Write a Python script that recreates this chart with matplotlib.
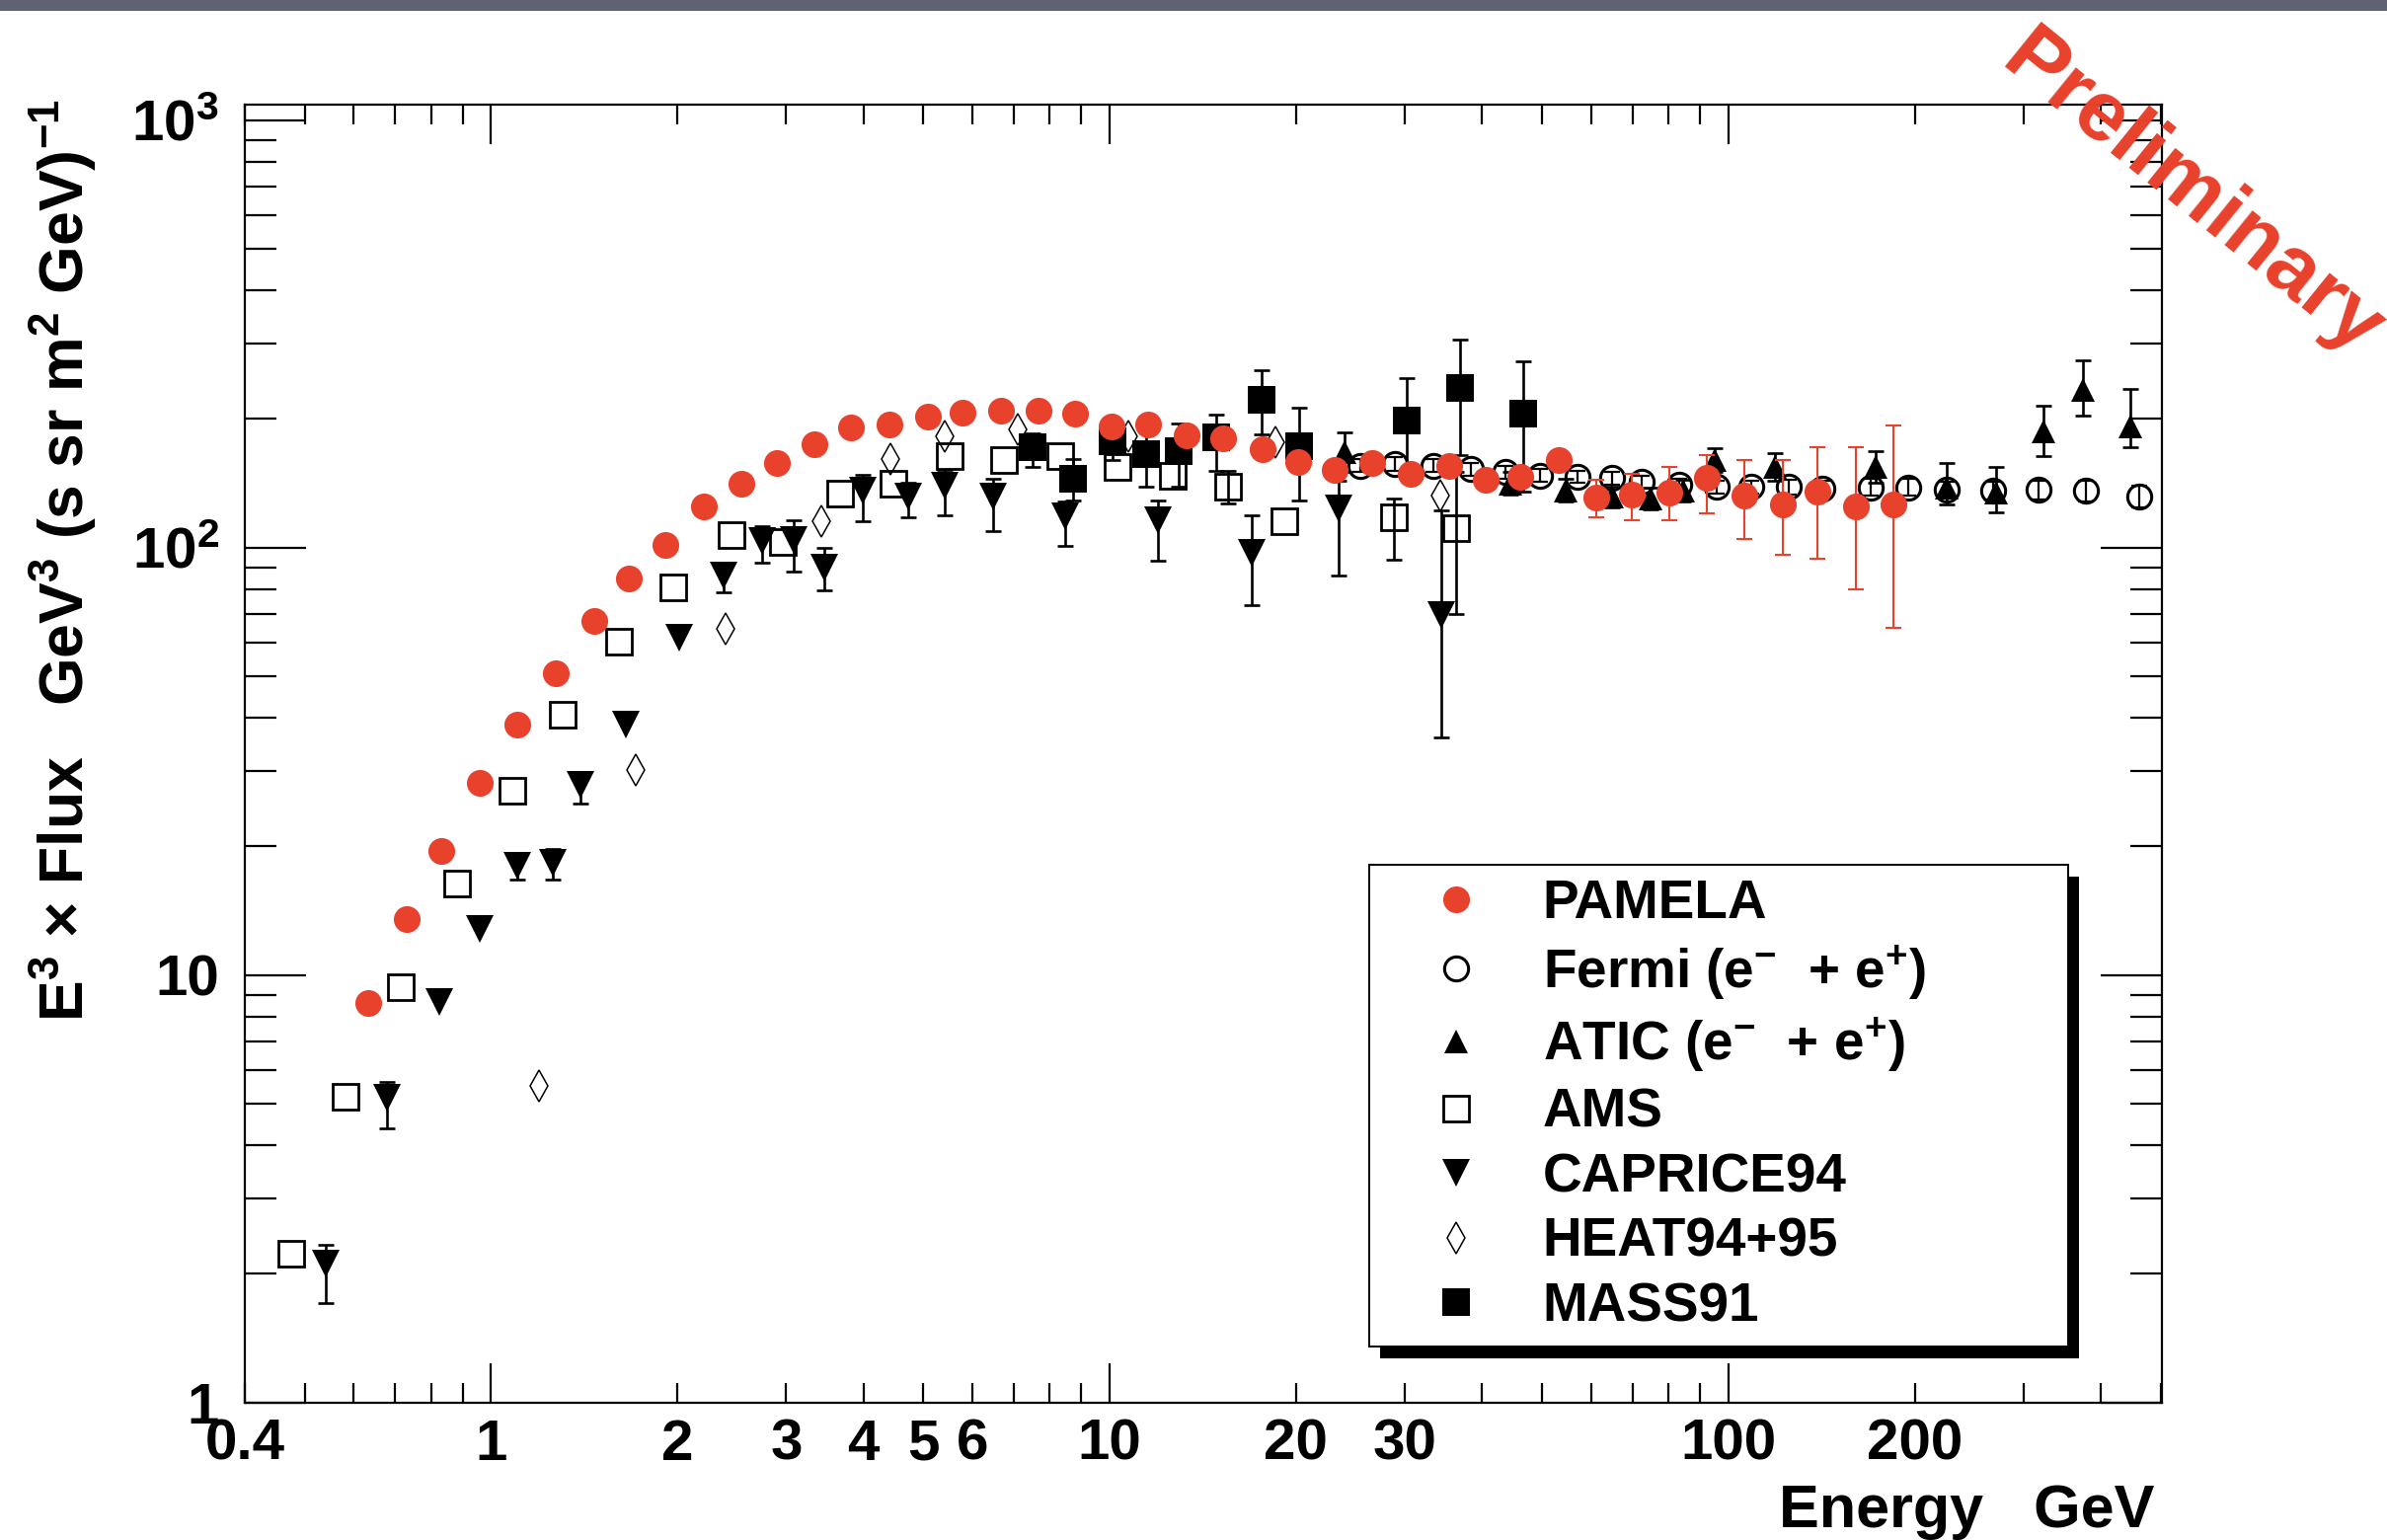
import numpy as np
import matplotlib
matplotlib.use('Agg')
import matplotlib.pyplot as plt
from matplotlib.lines import Line2D
from matplotlib.patches import Rectangle
from matplotlib.ticker import FixedLocator, FuncFormatter, LogLocator, NullFormatter

nan = np.nan

# ---------------- data (E in GeV, E^3 x Flux) ----------------
pamela_E = [0.633, 0.730, 0.831, 0.958, 1.104, 1.272, 1.466, 1.670, 1.913, 2.205,
            2.541, 2.895, 3.336, 3.822, 4.405, 5.076, 5.783, 6.664, 7.680, 8.800,
            10.08, 11.55, 13.31, 15.26, 17.68, 20.14, 23.14, 26.60, 30.64, 35.32,
            40.46, 46.11, 53.13, 61.23, 69.75, 80.36, 92.36, 106.1, 122.3, 139.3,
            160.6, 184.5]
pamela_F = [8.59, 13.5, 19.5, 28.2, 38.5, 50.9, 67.3, 84.7, 101.4, 124.5,
            140.8, 157.9, 174.2, 190.7, 193.9, 202.8, 207.0, 208.7, 208.7, 205.3,
            192.3, 193.9, 183.0, 180.0, 170.0, 158.6, 151.9, 157.9, 149.1, 155.4,
            144.3, 146.7, 160.6, 130.8, 132.9, 134.5, 146.0, 132.0, 126.0, 135.0,
            125.0, 126.0]
pamela_lo = [nan] * 33 + [118.0, 116.0, 116.0, 120.0, 105.0, 96.0, 94.0, 80.0, 65.0]
pamela_hi = [nan] * 33 + [144.0, 149.0, 154.0, 165.0, 160.0, 160.0, 172.0, 172.0, 193.0]

fermi_E = [25.4, 28.9, 33.3, 38.3, 43.6, 49.6, 57.1, 64.9, 72.4, 83.4, 95.9,
           108.8, 125.1, 142.0, 169.6, 195.0, 225.5, 267.5, 317.4, 379.0, 461.0]
fermi_F = [155.5, 156.9, 155.5, 152.8, 150.1, 147.5, 146.5, 145.5, 142.5, 140.0, 138.5,
           138.5, 138.5, 137.5, 138.4, 138.4, 136.5, 136.0, 136.5, 136.0, 131.8]
fermi_lo = [150.0, 151.5, 150.0, 147.5, 145.0, 142.5, 141.5, 140.5, 137.5, 135.0, 133.5,
            133.5, 133.0, 132.0, 132.5, 132.5, 130.5, 129.5, 129.5, 128.5, 124.0]
fermi_hi = [161.0, 162.5, 161.0, 158.0, 155.0, 152.5, 151.5, 150.5, 147.5, 145.0, 143.5,
            143.5, 144.0, 143.0, 144.5, 144.5, 142.5, 142.5, 143.5, 143.5, 139.5]

atic_E = [24.0, 44.4, 54.6, 64.9, 74.8, 84.4, 95.0, 118.9, 172.9, 225.5, 271.0, 323.5, 374.0, 446.7]
atic_F = [167.0, 141.0, 136.1, 131.4, 130.5, 135.9, 160.0, 154.0, 154.4, 138.4, 134.6, 187.2, 233.2, 192.3]
atic_lo = [150.0, 133.0, 128.0, 124.0, 123.0, 128.0, 150.0, 143.0, 142.0, 126.2, 120.6, 163.8, 203.3, 171.7]
atic_hi = [185.7, 150.0, 145.0, 139.0, 138.0, 144.0, 171.0, 166.0, 168.0, 157.9, 154.4, 214.7, 274.0, 235.3]

ams_E = [0.476, 0.582, 0.715, 0.880, 1.082, 1.305, 1.607, 1.972, 2.45, 2.967, 3.66,
         4.47, 5.507, 6.755, 8.32, 10.30, 12.65, 15.55, 19.15, 28.77, 36.33]
ams_F = [2.23, 5.19, 9.37, 16.4, 27.0, 40.6, 60.1, 80.6, 107.1, 102.8, 133.8,
         141.1, 164.0, 160.5, 164.0, 154.2, 147.5, 138.7, 115.1, 117.7, 110.8]
ams_lo = [nan] * 17 + [127.0, nan, 93.8, 70.0]
ams_hi = [nan] * 17 + [151.4, nan, 130.0, 150.0]

caprice_E = [0.540, 0.680, 0.824, 0.958, 1.102, 1.257, 1.394, 1.651, 2.014, 2.38, 2.743,
             3.083, 3.463, 3.987, 4.716, 5.417, 6.47, 8.48, 11.95, 16.94, 23.4, 34.3]
caprice_F = [2.11, 5.17, 8.64, 12.85, 17.98, 18.3, 27.9, 38.5, 61.5, 86.0, 103.5,
             104.4, 90.0, 135.7, 131.8, 139.8, 131.4, 118.6, 116.1, 97.2, 123.5, 69.4]
caprice_lo = [1.71, 4.39, nan, nan, 16.7, 16.7, 25.2, nan, nan, 78.4, 92.2,
              87.7, 79.3, 115.0, 117.8, 119.2, 109.1, 101.1, 93.3, 73.2, 85.9, 36.0]
caprice_hi = [2.34, 5.62, nan, nan, 19.3, 19.7, 29.9, nan, nan, 92.0, 112.0,
              116.0, 100.0, 148.0, 142.0, 152.0, 145.0, 128.0, 129.1, 119.2, 143.5, 122.4]

heat_E = [1.195, 1.713, 2.39, 3.42, 4.414, 5.417, 7.10, 10.7, 18.5, 34.2]
heat_F = [5.50, 30.2, 64.6, 115.1, 161.2, 182.4, 189.0, 182.0, 176.0, 132.6]

mass_E = [7.50, 8.74, 10.10, 11.45, 12.94, 14.89, 17.58, 20.24, 30.15, 36.9, 46.6]
mass_F = [171.5, 144.9, 177.7, 165.5, 167.9, 181.5, 221.7, 172.9, 198.6, 235.9, 205.4]
mass_lo = [154.2, 129.1, 160.0, 138.7, 138.7, 151.4, 184.0, 129.0, 149.6, 165.0, 135.0]
mass_hi = [185.0, 161.0, 195.0, 190.0, 195.0, 204.7, 260.0, 212.0, 249.6, 306.7, 272.7]

legend_labels = ["PAMELA", "Fermi ($e^{-}$  + $e^{+}$)", "ATIC ($e^{-}$  + $e^{+}$)",
                 "AMS", "CAPRICE94", "HEAT94+95", "MASS91"]

xtick_vals = [0.4, 1, 2, 3, 4, 5, 6, 10, 20, 30, 100, 200]
xtick_txt = ["0.4", "1", "2", "3", "4", "5", "6", "10", "20", "30", "100", "200"]
ytick_vals = [1, 10, 100, 1000]
ytick_txt = ["1", "10", "$10^{2}$", "$10^{3}$"]

# ---------------- style ----------------
plt.rcParams['font.family'] = ['Liberation Sans', 'DejaVu Sans']
plt.rcParams['font.weight'] = 'bold'
plt.rcParams['mathtext.fontset'] = 'custom'
plt.rcParams['mathtext.rm'] = 'Liberation Sans:bold'
plt.rcParams['mathtext.bf'] = 'Liberation Sans:bold'
plt.rcParams['mathtext.it'] = 'Liberation Sans:bold:italic'
plt.rcParams['mathtext.default'] = 'regular'

RED = '#E8412C'
W, H = 2418, 1560

fig = plt.figure(figsize=(W / 100, H / 100), dpi=100)
ax = fig.add_axes([248 / W, (H - 1420.7) / H, (2190 - 248) / W, (1420.7 - 106) / H])
ax.set_xscale('log')
ax.set_yscale('log')
ax.set_xlim(0.4, 502)
ax.set_ylim(1, 1087)

styles = {
    'pamela': dict(marker='o', ms=19.5, mfc=RED, mec=RED, mew=0),
    'fermi': dict(marker='o', ms=17.5, mfc='none', mec='black', mew=2.2),
    'atic': dict(marker='^', ms=17, mfc='black', mec='black', mew=0),
    'ams': dict(marker='s', ms=18.5, mfc='none', mec='black', mew=2.0),
    'caprice': dict(marker='v', ms=19.5, mfc='black', mec='black', mew=0),
    'heat': dict(marker='d', ms=16, mfc='none', mec='black', mew=1.1),
    'mass': dict(marker='s', ms=19.5, mfc='black', mec='black', mew=0),
}


def draw(E, F, lo, hi, style, ecolor='black', elw=1.9, z=3):
    E = np.asarray(E, float)
    F = np.asarray(F, float)
    if lo is not None:
        lo = np.asarray(lo, float)
        hi = np.asarray(hi, float)
        yerr = np.vstack([F - lo, hi - F])
        ax.errorbar(E, F, yerr=yerr, fmt='none', ecolor=ecolor, elinewidth=elw,
                    capsize=6, capthick=elw, zorder=z)
    ax.plot(E, F, linestyle='none', zorder=z + 0.1, **style)


draw(ams_E, ams_F, ams_lo, ams_hi, styles['ams'], z=3)
draw(caprice_E, caprice_F, caprice_lo, caprice_hi, styles['caprice'], z=3.2)
draw(heat_E, heat_F, None, None, styles['heat'], z=3.4)
draw(mass_E, mass_F, mass_lo, mass_hi, styles['mass'], z=3.6)
draw(fermi_E, fermi_F, fermi_lo, fermi_hi, styles['fermi'], elw=1.6, z=3.8)
draw(atic_E, atic_F, atic_lo, atic_hi, styles['atic'], z=4.0)
draw(pamela_E, pamela_F, pamela_lo, pamela_hi, styles['pamela'], ecolor=RED, elw=1.5, z=4.2)

# ---------------- axes ----------------
for s in ax.spines.values():
    s.set_linewidth(1.6)


def fmt_from(vals, txts):
    def f(v, pos):
        for val, t in zip(vals, txts):
            if abs(v / val - 1) < 1e-6:
                return t
        return ''
    return FuncFormatter(f)


ax.xaxis.set_major_locator(FixedLocator([1, 10, 100]))
ax.xaxis.set_minor_locator(LogLocator(base=10, subs=np.arange(2, 10), numticks=50))
ax.xaxis.set_major_formatter(fmt_from(xtick_vals, xtick_txt))
ax.xaxis.set_minor_formatter(fmt_from(xtick_vals, xtick_txt))
ax.yaxis.set_major_locator(FixedLocator(ytick_vals))
ax.yaxis.set_minor_locator(LogLocator(base=10, subs=np.arange(2, 10), numticks=50))
ax.yaxis.set_major_formatter(fmt_from(ytick_vals, ytick_txt))
ax.yaxis.set_minor_formatter(NullFormatter())

ax.tick_params(which='both', direction='in', top=True, right=True, width=1.6,
               labelsize=42, colors='black')
ax.xaxis.set_tick_params(which='major', length=28.8, pad=11.5)
ax.xaxis.set_tick_params(which='minor', length=14.4, pad=11.5)
ax.yaxis.set_tick_params(which='major', length=44.6, pad=18.7)
ax.yaxis.set_tick_params(which='minor', length=23.0, pad=18.7)
for lab in ax.get_xticklabels(which='both') + ax.get_yticklabels(which='both'):
    lab.set_fontweight('bold')

ax.set_xlabel("Energy   GeV", fontsize=44, fontweight='bold', loc='right')
ax.xaxis.set_label_coords(0.9959, -0.0626)
ax.set_ylabel(r"$E^{3}$ × Flux   $GeV^{3}$ (s sr $m^{2}$ $GeV)^{-1}$",
              fontsize=45, fontweight='bold', loc='top')
ax.yaxis.set_label_coords(-0.0762, 1.0046)

# ---------------- legend ----------------
order = ['pamela', 'fermi', 'atic', 'ams', 'caprice', 'heat', 'mass']
handles = [Line2D([], [], linestyle='none', **styles[k]) for k in order]
leg = ax.legend(handles, legend_labels, loc='upper left',
                bbox_to_anchor=(0.5865, 0.05, 0.3645, 0.3643), mode='expand',
                borderaxespad=0, fontsize=39.5, frameon=True, fancybox=False,
                edgecolor='black', facecolor='white', framealpha=1,
                borderpad=0.25, handlelength=2.7, handletextpad=0.25,
                labelspacing=0.245, numpoints=1)
leg.get_frame().set_linewidth(1.4)
for t in leg.get_texts():
    t.set_fontweight('bold')

fig.canvas.draw()
bb = leg.get_frame().get_window_extent(fig.canvas.get_renderer())
inv = ax.transAxes.inverted()
(x0, y0), (x1, y1) = inv.transform([[bb.x0, bb.y0], [bb.x1, bb.y1]])
dx, dy = 11 / 1942, 12 / 1314.7
ax.add_patch(Rectangle((x0 + dx, y0 - dy), x1 - x0, y1 - y0, transform=ax.transAxes,
                       facecolor='black', edgecolor='none', zorder=4.9, clip_on=False))

# ---------------- decorations ----------------
fig.text(0.918, 0.8735, "Preliminary", rotation=-39, color=RED, fontsize=62,
         fontweight='bold', ha='center', va='center', rotation_mode='anchor')
fig.add_artist(Rectangle((0, 1 - 11 / H), 1, 11 / H, transform=fig.transFigure,
                         facecolor='#5e6271', edgecolor='none'))

fig.savefig('out.png', dpi=100)
